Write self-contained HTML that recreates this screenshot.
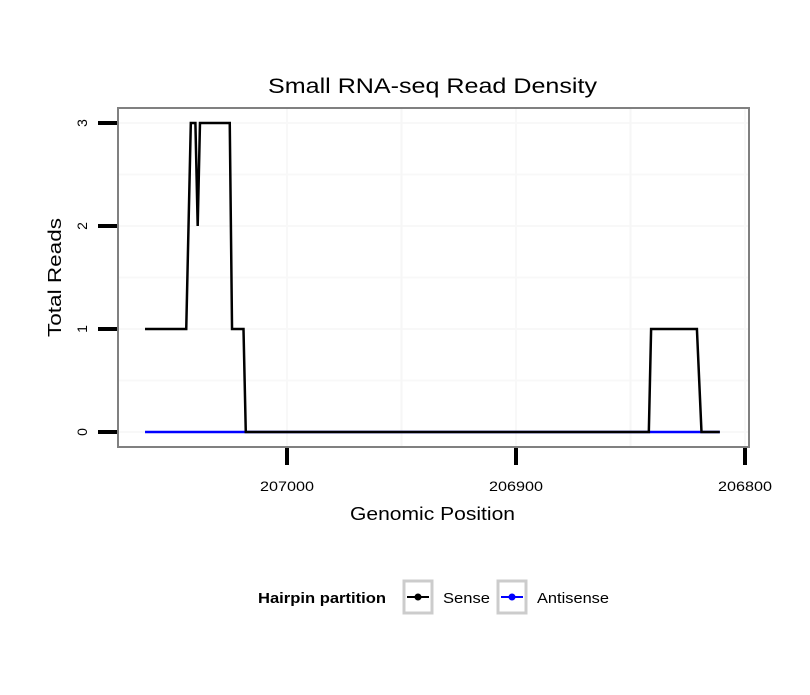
<!DOCTYPE html>
<html><head><meta charset="utf-8"><style>
body{margin:0;background:#fff;}
svg text{font-family:"Liberation Sans",sans-serif;}
</style></head><body>
<svg id="chart" width="810" height="690" viewBox="0 0 810 690" xmlns="http://www.w3.org/2000/svg">
<rect x="0" y="0" width="810" height="690" fill="#fff"/>
<text x="268" y="93" font-size="21" textLength="329" lengthAdjust="spacingAndGlyphs">Small RNA-seq Read Density</text>
<g id="grid"></g>
<g id="series"></g>
<rect x="118" y="108" width="631" height="339" fill="none" stroke="#808080" stroke-width="2"/>
<g id="axes"></g>
<text x="350" y="520" font-size="18" textLength="165" lengthAdjust="spacingAndGlyphs">Genomic Position</text>
<text transform="translate(61,337) rotate(-90)" font-size="18" textLength="119" lengthAdjust="spacingAndGlyphs">Total Reads</text>
<g>
<text x="258" y="603" font-size="15" font-weight="bold" textLength="128" lengthAdjust="spacingAndGlyphs">Hairpin partition</text>
<g>
<rect x="404" y="581" width="28" height="32" fill="#fff" stroke="#ccc" stroke-width="3"/>
<line x1="407" y1="597" x2="429" y2="597" stroke="#000" stroke-width="2"/>
<circle cx="418" cy="597" r="3.5" fill="#000"/>
<text x="443" y="603" font-size="15" textLength="47" lengthAdjust="spacingAndGlyphs">Sense</text>
</g>
<g>
<rect x="498" y="581" width="28" height="32" fill="#fff" stroke="#ccc" stroke-width="3"/>
<line x1="501" y1="597" x2="523" y2="597" stroke="#00f" stroke-width="2"/>
<circle cx="512" cy="597" r="3.5" fill="#00f"/>
<text x="537" y="603" font-size="15" textLength="72" lengthAdjust="spacingAndGlyphs">Antisense</text>
</g>
</g>
</svg>
<script>
const positions = [207062,207044,207042,207040,207039,207038,207025,207024,207019,207018,206842,206841,206821,206819,206811];
const senseReads = [1,1,3,3,2,3,3,1,1,0,0,1,1,0,0];
const antisensePositions = [207062,206811];
const antisenseReads = [0,0];
const xTicks = [207000,206900,206800];
const yTicks = [0,1,2,3];

const NS="http://www.w3.org/2000/svg";
function xs(v){return 287+(207000-v)*2.29;}
function ys(v){return 432-v*103;}
function mk(tag,attrs,parent){const e=document.createElementNS(NS,tag);for(const k in attrs)e.setAttribute(k,attrs[k]);parent.appendChild(e);return e;}
const grid=document.getElementById('grid'),axes=document.getElementById('axes'),series=document.getElementById('series');
for(let i=0;i<yTicks.length;i++){
  const y=ys(yTicks[i]);
  const g=mk('line',{x1:118,x2:749,y1:y,y2:y,stroke:'#f8f8f8','stroke-width':2},grid);
  
  
  if(i<yTicks.length-1){const ym=ys((yTicks[i]+yTicks[i+1])/2);
    const m=mk('line',{x1:118,x2:749,y1:ym,y2:ym,stroke:'#f8f8f8','stroke-width':2},grid);
    
    }
  const t=mk('line',{x1:98,x2:117,y1:y,y2:y,stroke:'#000','stroke-width':4},axes);
  
  
  const l=mk('text',{transform:`translate(87,${y}) rotate(-90)`,'font-size':14,'text-anchor':'middle'},axes);
  l.textContent=yTicks[i];
  
  
}
for(let i=0;i<xTicks.length;i++){
  const x=xs(xTicks[i]);
  const g=mk('line',{x1:x,x2:x,y1:108,y2:447,stroke:'#f8f8f8','stroke-width':2},grid);
  
  
  if(i<xTicks.length-1){const xm=xs((xTicks[i]+xTicks[i+1])/2);
    const m=mk('line',{x1:xm,x2:xm,y1:108,y2:447,stroke:'#f6f6f6','stroke-width':2},grid);
    
    }
  const t=mk('line',{x1:x,x2:x,y1:448,y2:465,stroke:'#000','stroke-width':4},axes);
  
  
  const l=mk('text',{x:x,y:491,'font-size':14,'text-anchor':'middle',textLength:54,lengthAdjust:'spacingAndGlyphs'},axes);
  l.textContent=xTicks[i];
  
  
}
const ap=mk('polyline',{points:antisensePositions.map((p,i)=>xs(p)+','+ys(antisenseReads[i])).join(' '),fill:'none',stroke:'#00f','stroke-width':2.5},series);


const sp=mk('polyline',{points:positions.map((p,i)=>xs(p)+','+ys(senseReads[i])).join(' '),fill:'none',stroke:'#000','stroke-width':2.5},series);


</script>
</body></html>
